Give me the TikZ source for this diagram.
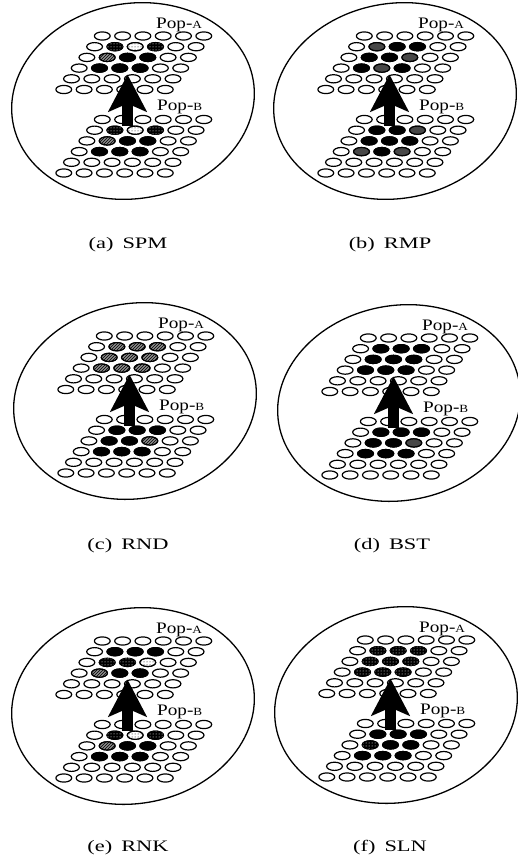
\documentclass[tikz,border=0pt]{standalone}
\usepackage{fontspec}
\setmainfont{Liberation Serif}
\usetikzlibrary{arrows.meta,patterns}
\tikzset{
 cell/.style={draw=black, line width=1.2pt},
 W/.style={fill=white},
 K/.style={fill=black},
 H/.style={fill=black!45, postaction={pattern=north east lines}},
 D/.style={fill=black, postaction={pattern=dots, pattern color=white}},
 L/.style={fill=white, postaction={pattern=dots}},
 G/.style={fill=black!72},
 outer/.style={draw=black, line width=1.3pt},
 bigarrow/.style={line width=11pt, -{Stealth[length=37pt, width=38pt, inset=8pt]}},
 poplabel/.style={anchor=base west, inner sep=0pt},
 captionstyle/.style={anchor=base, inner sep=0pt},
}
\newcommand{\cellE}[3]{\draw[cell,#1] ({102.3+20.3*#3-7.7*#2},{36+10.7*#2}) ellipse [x radius=7.9, y radius=4.1];}
\newcommand{\gridbase}{\foreach \r in {0,...,5}{\foreach \c in {0,...,5}{\cellE{W}{\r}{\c}}}}
\newcommand{\blockcells}[9]{\cellE{#1}{1}{1}\cellE{#2}{1}{2}\cellE{#3}{1}{3}\cellE{#4}{2}{1}\cellE{#5}{2}{2}\cellE{#6}{2}{3}\cellE{#7}{3}{1}\cellE{#8}{3}{2}\cellE{#9}{3}{3}}
\newcommand{\poptext}[1]{\scalebox{1.2}[1]{\fontsize{16}{16}\selectfont Pop-{\fontsize{11}{11}\selectfont #1}}}
\newcommand{\captext}[2]{\fontsize{16}{16}\selectfont\scalebox{1.4}[1]{(#1)}\hspace{9pt}\scalebox{1.4}[1]{#2}}
\newcommand{\panelP}[5]{%
 \begin{scope}[shift={(#2,#3)}]
  \draw[outer, rotate around={10:(133,101)}] (133,101) ellipse [x radius=122, y radius=97.5];
  \gridbase #4
  \begin{scope}[shift={(0,83.5)}]\gridbase #5\end{scope}
  \coordinate (tail-#1) at (127.5,126);
  \coordinate (tip-#1) at (127.5,74.5);
  \draw[bigarrow] (tail-#1) -- (tip-#1);
  \node[poplabel] (popA-#1) at (156,28.5) {\poptext{A}};
  \node[poplabel] (popB-#1) at (157,110.5) {\poptext{B}};
 \end{scope}}
\begin{document}
\begin{tikzpicture}[x=1pt,y=-1pt]
\useasboundingbox (0,0) rectangle (517,857);
\fill[white] (0,0) rectangle (517,857);
\panelP{a}{0}{0}{\blockcells{D}{L}{D}{H}{K}{K}{K}{K}{K}}{\blockcells{D}{L}{D}{H}{K}{K}{K}{K}{K}}
\panelP{b}{262}{0}{\blockcells{G}{K}{K}{K}{K}{G}{K}{G}{K}}{\blockcells{K}{K}{G}{K}{K}{K}{G}{K}{G}}
\panelP{c}{2}{300}{\blockcells{H}{H}{H}{H}{H}{H}{H}{H}{H}}{\blockcells{K}{K}{K}{K}{K}{H}{K}{K}{K}}
\panelP{d}{266}{302}{\blockcells{K}{K}{K}{K}{K}{K}{K}{K}{K}}{\blockcells{K}{K}{K}{K}{K}{G}{K}{K}{K}}
\panelP{e}{0}{605}{\blockcells{K}{K}{K}{D}{D}{L}{H}{K}{K}}{\blockcells{D}{L}{D}{H}{K}{K}{K}{K}{K}}
\panelP{f}{263}{604}{\blockcells{D}{D}{D}{D}{D}{D}{D}{D}{D}}{\blockcells{K}{K}{K}{D}{K}{K}{K}{K}{K}}
\node[captionstyle] (cap-a) at (128,248) {\captext{a}{SPM}};
\node[captionstyle] (cap-b) at (390,248) {\captext{b}{RMP}};
\node[captionstyle] (cap-c) at (128,549) {\captext{c}{RND}};
\node[captionstyle] (cap-d) at (392,549) {\captext{d}{BST}};
\node[captionstyle] (cap-e) at (128,851) {\captext{e}{RNK}};
\node[captionstyle] (cap-f) at (390,851) {\captext{f}{SLN}};
\end{tikzpicture}
\end{document}
